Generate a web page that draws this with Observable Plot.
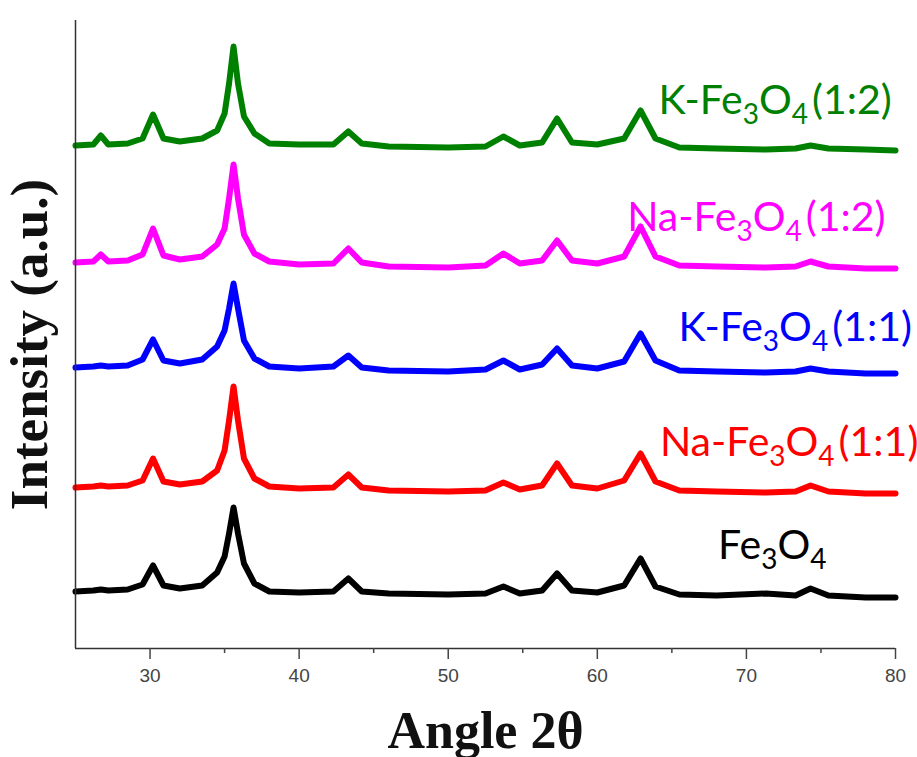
<!DOCTYPE html>
<html><head><meta charset="utf-8">
<script src="https://cdn.jsdelivr.net/npm/d3@7"></script>
<script src="https://cdn.jsdelivr.net/npm/@observablehq/plot@0.6"></script>
<style>body{margin:0;background:#fff}</style>
</head><body><div id="chart"></div>
<script>
// 2θ sampling (degrees) shared by all patterns
const angles = [25, 26.2, 26.7, 27.2, 28.5, 29.5, 30.2, 30.9, 32, 33.5, 34.5, 35.0, 35.3, 35.6, 35.9, 36.3, 37, 38, 40, 42.3, 43.3, 44.2, 46, 50, 52.5, 53.7, 54.8, 56.3, 57.3, 58.3, 60, 61.8, 62.9, 63.9, 65.5, 68, 71.3, 73.3, 74.3, 75.5, 78, 80];
// intensities (a.u., stacked with offsets)
const fe3o4  = [57, 58, 59, 58, 59, 64, 83, 63, 60, 63, 76, 92, 115, 141, 115, 85, 65, 57, 56, 57, 70, 57, 55, 54, 55, 62, 55, 58, 75, 58, 56, 63, 90, 62, 54, 53, 55, 53, 60, 53, 51, 51];
const naFe11 = [161, 162, 163, 162, 163, 168, 190, 167, 164, 167, 178, 198, 228, 262, 228, 190, 170, 162, 160, 161, 174, 161, 158, 157, 158, 166, 159, 163, 185, 163, 160, 168, 195, 167, 158, 157, 156, 157, 163, 157, 155, 155];
const kFe11  = [281, 282, 283, 282, 283, 289, 309, 288, 285, 289, 302, 318, 340, 365, 340, 308, 290, 282, 280, 282, 293, 281, 278, 277, 279, 288, 279, 284, 300, 283, 280, 287, 315, 288, 278, 277, 276, 277, 280, 277, 275, 275];
const naFe12 = [386, 387, 394, 387, 388, 394, 420, 393, 389, 392, 404, 420, 450, 484, 450, 414, 395, 387, 384, 385, 400, 386, 382, 381, 383, 395, 385, 388, 408, 388, 385, 392, 422, 392, 383, 382, 381, 382, 387, 382, 380, 380];
const kFe12  = [503, 504, 513, 504, 505, 510, 534, 510, 507, 510, 518, 535, 565, 602, 565, 532, 515, 505, 504, 504, 517, 505, 502, 501, 502, 512, 503, 506, 530, 506, 504, 510, 538, 510, 501, 500, 499, 500, 503, 500, 499, 498];

const seriesNames = ["Fe3O4", "Na-Fe3O4(1:1)", "K-Fe3O4(1:1)", "Na-Fe3O4(1:2)", "K-Fe3O4(1:2)"];
const seriesColors = ["#000000", "#ff0000", "#0000ff", "#ff00ff", "#008000"];
const labelAngles = [68.1, 64.2, 65.45, 62.0, 64.1];
const labelIntensity = [90, 193, 308, 418, 535];
const majorTicks = [30, 40, 50, 60, 70, 80];
const minorTicks = [35, 45, 55, 65, 75];
const xTitle = "Angle 2θ";
const yTitle = "Intensity (a.u.)";

const series = [fe3o4, naFe11, kFe11, naFe12, kFe12];
const rows = series.flatMap((vals, i) => vals.map((v, j) => ({angle: angles[j], intensity: v, name: seriesNames[i]})));
const labels = seriesNames.map((n, i) => ({name: n, angle: labelAngles[i], intensity: labelIntensity[i]}));

const plot = Plot.plot({
  width: 917, height: 757,
  marginTop: 20, marginRight: 22, marginBottom: 109, marginLeft: 75,
  x: {domain: [25, 80]},
  y: {domain: [0, 628], axis: null},
  color: {domain: seriesNames, range: seriesColors},
  style: {background: "#fff", fontFamily: "'Liberation Sans', Arial, sans-serif", overflow: "visible"},
  marks: [
    Plot.line(rows, {x: "angle", y: "intensity", z: "name", stroke: "name", strokeWidth: 6, strokeLinejoin: "round"}),
    Plot.ruleX([25], {y1: 0, y2: 628, stroke: "#333", strokeWidth: 1.5}),
    Plot.ruleY([0], {stroke: "#333", strokeWidth: 1.5}),
    Plot.axisX(majorTicks, {tickSize: 11, tickPadding: 9, color: "#444", strokeWidth: 1.5, label: null, ariaLabel: "major-x"}),
    Plot.axisX(minorTicks, {tickSize: 5, tickFormat: () => "", color: "#444", strokeWidth: 1.5, label: null}),
    Plot.text(labels, {x: "angle", y: "intensity", text: "name", fill: "name", textAnchor: "start", lineAnchor: "bottom", fontSize: 41, fontFamily: "Lato, 'Open Sans', sans-serif"}),
    Plot.text([xTitle], {frameAnchor: "bottom", dy: 99, lineAnchor: "bottom", fontSize: 52, fontWeight: "bold", fontFamily: "'Liberation Serif', 'Times New Roman', serif", fill: "#111"}),
    Plot.text([yTitle], {frameAnchor: "left", dx: -45, dy: 10, rotate: -90, textAnchor: "middle", fontSize: 53, fontWeight: "bold", fontFamily: "'Liberation Serif', 'Times New Roman', serif", fill: "#111"})
  ]
});
document.getElementById("chart").appendChild(plot);

// enlarge tick labels
d3.select(plot).selectAll("text").each(function() {
  if (/^(30|40|50|60|70|80)$/.test(this.textContent.trim())) {
    d3.select(this).style("font-size", "19px");
    if (this.parentNode && this.parentNode.tagName === "g") d3.select(this.parentNode).style("font-size", "19px");
  }
});

// render chemical subscripts as tspans
d3.select(plot).selectAll("text").each(function() {
  const s = this.textContent;
  if (!s.includes("Fe3O4")) return;
  const fs = 41, sub = Math.round(fs * 0.68), shift = Math.round(fs * 0.24);
  const [pre, post] = s.split("Fe3O4");
  const parts = [
    {t: pre + "Fe"}, {t: "3", sub: true}, {t: "O"}, {t: "4", sub: true}, {t: post}
  ];
  const el = d3.select(this);
  el.text(null);
  let cur = 0;
  for (const p of parts) {
    if (!p.t) continue;
    const target = p.sub ? shift : 0;
    const ts = el.append("tspan").text(p.t).attr("dy", (target - cur) + "px");
    if (p.sub) ts.attr("font-size", sub + "px");
    if (!p.sub && p.t === post) ts.attr("dx", "4px");
    cur = target;
  }
});
</script>
</body></html>
